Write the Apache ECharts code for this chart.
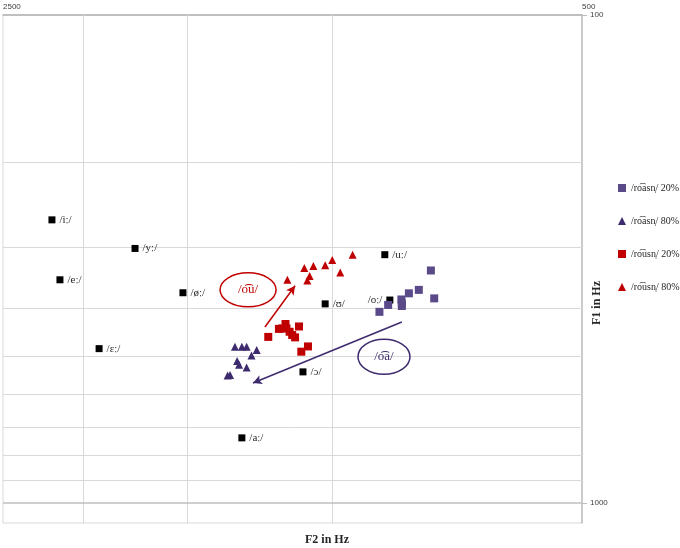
<!DOCTYPE html>
<html><head><meta charset="utf-8">
<script src="https://cdn.jsdelivr.net/npm/echarts@6.0.0/dist/echarts.min.js"></script>
<style>html,body{margin:0;padding:0;background:#fff}#c{width:680px;height:548px}</style>
</head><body><div id="c"></div>
<script>
// reference vowels
const refLabels = ['/iː/','/yː/','/eː/','/øː/','/ɛː/','/aː/','/ɔ/','/ʊ/','/uː/','/oː/'];
const refF2 = [2182,1732,2134,1516,1914,1287,1086,1021,865,853];
const refF1 = [263,301,349,371,483,736,539,391,310,384];
// /roasn/ 20%
const oa20F2 = [761,787,809,754,826,825,825,857,878];
const oa20F1 = [334,366,372,381,383,390,395,393,406];
// /roasn/ 80%
const oa80F2 = [1312,1287,1270,1235,1253,1304,1297,1270,1339,1330];
const oa80F1 = [479,479,479,486,499,512,521,528,548,547];
// /rousn/ 20%
const ou20F2 = [1196,1161,1150,1140,1137,1127,1119,1110,1098,1071,1091];
const ou20F1 = [457,440,439,430,439,446,453,458,435,478,490];
// /rousn/ 80%
const ou80F2 = [1134,1082,1055,1021,1001,946,979,1066,1073];
const ou80F1 = [349,330,327,326,318,310,337,343,350];

const seriesNames = ['/ro͡asn̩/ 20%','/ro͡asn̩/ 80%','/ro͡usn̩/ 20%','/ro͡usn̩/ 80%'];
const xTickLabels = [2500, 500];
const yTickLabels = [100, 1000];
const xGridValues = [2000, 1500, 1000];
const yGridValues = [200, 300, 400, 500, 600, 700, 800, 900];

// annotations (data space)
const redArrow = [[1207, 436], [1110, 359]];
const purpleArrow = [[825, 426], [1248, 568]];
const redEllipseCenter = [1265, 366];
const purpleEllipseCenter = [867, 502];

const PURPLE = '#5B4A8A', PURPLE_DARK = '#3E2A6E', RED = '#C00000';
const serif = "'Liberation Serif','DejaVu Serif',serif";

function pts(xs, ys){ return xs.map((x,i)=>[x, ys[i]]); }

const chart = echarts.init(document.getElementById('c'));
const gridLines = [];
xGridValues.forEach(v=>gridLines.push({xAxis:v}));
yGridValues.forEach(v=>gridLines.push({yAxis:v}));
gridLines.push({yAxis:1000, lineStyle:{color:'#bfbfbf', width:1.5}});

chart.setOption({
  animation:false,
  grid:{left:3, right:98, top:15, bottom:25, show:true, borderColor:'#d9d9d9', borderWidth:1},
  xAxis:{type:'log', logBase:10, min:500, max:2500, inverse:true, position:'top',
    axisLine:{show:true, lineStyle:{color:'#b3b3b3', width:1.5}},
    axisTick:{show:false}, splitLine:{show:false}, minorSplitLine:{show:false},
    axisLabel:{customValues:xTickLabels, align:'left', fontSize:8, color:'#404040', margin:4,
      fontFamily:"'Liberation Sans',sans-serif", formatter:v=>String(Math.round(v))}},
  yAxis:{type:'log', logBase:10, min:100, max:1100, inverse:true, position:'right',
    axisLine:{show:true, lineStyle:{color:'#bfbfbf', width:1.5}},
    axisTick:{show:true, customValues:yTickLabels, length:5, lineStyle:{color:'#bfbfbf'}},
    splitLine:{show:false},
    axisLabel:{customValues:yTickLabels, fontSize:8, color:'#404040', margin:8,
      fontFamily:"'Liberation Sans',sans-serif", formatter:v=>String(Math.round(v))}},
  legend:{data:seriesNames, orient:'vertical', left:613, top:178, itemWidth:8, itemHeight:8, itemGap:23,
    textStyle:{fontFamily:serif, fontSize:10, color:'#262626'}},
  series:[
    {type:'scatter', name:'grid', data:[], silent:true,
      markLine:{silent:true, z:1, symbol:['none','none'], label:{show:false},
        lineStyle:{color:'#d9d9d9', width:1, type:'solid'}, emphasis:{disabled:true}, data:gridLines}},
    {type:'scatter', name:'ref', z:3, symbol:'rect', symbolSize:7, itemStyle:{color:'#000', opacity:1},
      data:pts(refF2, refF1).map((p,i)=>({value:p, label:{position: i===9?'left':'right'}})),
      label:{show:true, formatter:p=>refLabels[p.dataIndex], distance:4, fontFamily:serif, fontSize:11, color:'#262626'},
      markLine:{silent:true, z:5, symbol:['none','arrow'], symbolSize:[7,9], label:{show:false}, emphasis:{disabled:true},
        data:[
          [{coord:redArrow[0], lineStyle:{color:RED, width:1.5, type:'solid'}},{coord:redArrow[1]}],
          [{coord:purpleArrow[0], lineStyle:{color:PURPLE_DARK, width:1.5, type:'solid'}},{coord:purpleArrow[1]}]
        ]}},
    {type:'scatter', name:seriesNames[0], z:3, symbol:'rect', symbolSize:8, itemStyle:{color:PURPLE, opacity:1}, data:pts(oa20F2, oa20F1)},
    {type:'scatter', name:seriesNames[1], z:3, symbol:'triangle', symbolSize:8, itemStyle:{color:PURPLE_DARK, opacity:1}, data:pts(oa80F2, oa80F1)},
    {type:'scatter', name:seriesNames[2], z:3, symbol:'rect', symbolSize:8, itemStyle:{color:RED, opacity:1}, data:pts(ou20F2, ou20F1)},
    {type:'scatter', name:seriesNames[3], z:3, symbol:'triangle', symbolSize:8, itemStyle:{color:RED, opacity:1}, data:pts(ou80F2, ou80F1)}
  ]
});

const rc = chart.convertToPixel({gridIndex:0}, redEllipseCenter);
const pc = chart.convertToPixel({gridIndex:0}, purpleEllipseCenter);
chart.setOption({graphic:[
  {type:'ellipse', shape:{cx:rc[0], cy:rc[1], rx:28, ry:17}, style:{fill:'none', stroke:RED, lineWidth:1.5}, z:10},
  {type:'text', x:rc[0], y:rc[1], style:{text:'/o͡u/', fill:RED, font:"13px "+serif, align:'center', verticalAlign:'middle'}, z:10},
  {type:'ellipse', shape:{cx:pc[0], cy:pc[1], rx:26, ry:17.5}, style:{fill:'none', stroke:PURPLE_DARK, lineWidth:1.5}, z:10},
  {type:'text', x:pc[0], y:pc[1], style:{text:'/o͡a/', fill:PURPLE_DARK, font:"13px "+serif, align:'center', verticalAlign:'middle'}, z:10},
  {type:'text', x:327, y:540, style:{text:'F2 in Hz', fill:'#262626', font:"bold 12px "+serif, align:'center', verticalAlign:'middle'}},
  {type:'text', x:597, y:303, rotation:Math.PI/2, style:{text:'F1 in Hz', fill:'#262626', font:"bold 12px "+serif, align:'center', verticalAlign:'middle'}}
]});
</script>
</body></html>
